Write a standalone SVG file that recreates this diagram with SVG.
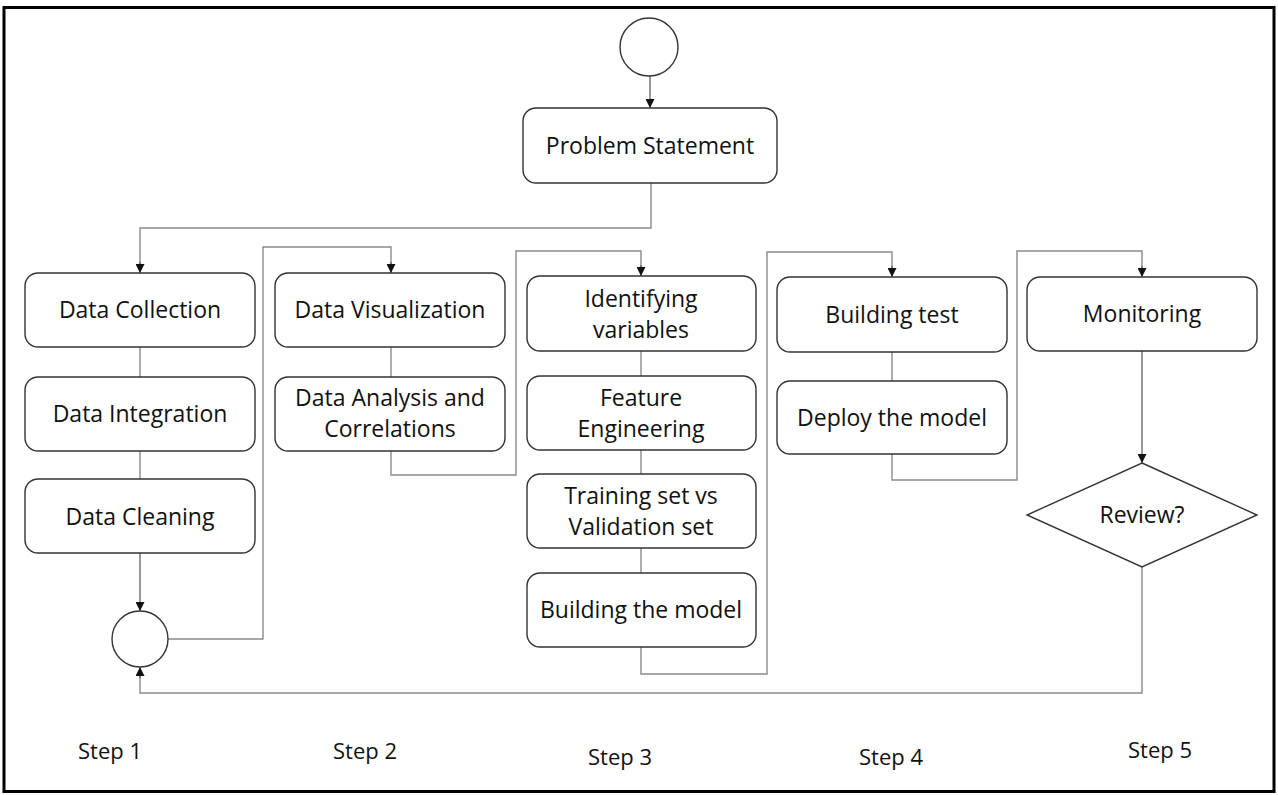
<svg xmlns="http://www.w3.org/2000/svg" width="1278" height="795" viewBox="0 0 1278 795">
<defs>
<marker id="arr" viewBox="0 0 10 10" refX="10" refY="5" markerWidth="9" markerHeight="9" markerUnits="userSpaceOnUse" orient="auto">
<path d="M0,0 L10,5 L0,10 z" fill="#111"/>
</marker>
</defs>
<style>
.box{fill:#fff;stroke:#333;stroke-width:1.4}
.circ{fill:#fff;stroke:#333;stroke-width:1.4}
.con{fill:none;stroke:#8a8a8a;stroke-width:1.4}
.arrow{fill:none;stroke:#555;stroke-width:1.2}
text{font-family:"Open Sans","Liberation Sans",sans-serif;font-size:23px;fill:#111;text-anchor:middle}
.step{font-size:22px}
</style>
<rect x="0" y="0" width="1278" height="795" fill="#fff"/>
<rect x="4" y="7.5" width="1270" height="784" fill="none" stroke="#000" stroke-width="3"/>

<g id="connectors">
<path class="arrow" d="M650,76 L650,108" marker-end="url(#arr)"/>
<path class="con" d="M651,183 L651,228 L140,228 L140,265"/>
<path class="arrow" d="M140,262 L140,273" marker-end="url(#arr)"/>
<path class="con" d="M140,347 L140,377"/>
<path class="con" d="M140,451 L140,479"/>
<path class="arrow" d="M140,553 L140,611" marker-end="url(#arr)"/>
<path class="con" d="M168,639 L263,639 L263,247 L391,247 L391,265"/>
<path class="arrow" d="M391,262 L391,273" marker-end="url(#arr)"/>
<path class="con" d="M391,347 L391,377"/>
<path class="con" d="M391,451 L391,475 L516,475 L516,251 L641,251 L641,268"/>
<path class="arrow" d="M641,265 L641,276" marker-end="url(#arr)"/>
<path class="con" d="M641,351 L641,376"/>
<path class="con" d="M641,450 L641,474"/>
<path class="con" d="M641,548 L641,573"/>
<path class="con" d="M641,647 L641,674 L767,674 L767,252 L892,252 L892,269"/>
<path class="arrow" d="M892,266 L892,277" marker-end="url(#arr)"/>
<path class="con" d="M892,352 L892,381"/>
<path class="con" d="M892,454 L892,480 L1017,480 L1017,251 L1142,251 L1142,269"/>
<path class="arrow" d="M1142,266 L1142,277" marker-end="url(#arr)"/>
<path class="arrow" d="M1142,351 L1142,463" marker-end="url(#arr)"/>
<path class="con" d="M1142,567 L1142,693 L140,693 L140,675"/>
<path class="arrow" d="M140,678 L140,667" marker-end="url(#arr)"/>
</g>

<g id="start"><circle class="circ" cx="649" cy="47" r="29"/></g>
<g id="problem-statement"><rect class="box" x="523" y="108" width="254" height="75" rx="13"/><text x="650" y="154">Problem Statement</text></g>

<g id="data-collection"><rect class="box" x="25" y="273" width="230" height="74" rx="13"/><text x="140" y="318">Data Collection</text></g>
<g id="data-integration"><rect class="box" x="25" y="377" width="230" height="74" rx="13"/><text x="140" y="422">Data Integration</text></g>
<g id="data-cleaning"><rect class="box" x="25" y="479" width="230" height="74" rx="13"/><text x="140" y="525">Data Cleaning</text></g>
<g id="merge"><circle class="circ" cx="140" cy="639" r="28"/></g>

<g id="data-visualization"><rect class="box" x="275" y="273" width="230" height="74" rx="13"/><text x="390" y="318">Data Visualization</text></g>
<g id="data-analysis"><rect class="box" x="275" y="377" width="230" height="74" rx="13"/><text x="390" y="406">Data Analysis and</text><text x="390" y="437">Correlations</text></g>

<g id="identifying-variables"><rect class="box" x="527" y="276" width="229" height="75" rx="13"/><text x="641" y="307">Identifying</text><text x="641" y="338">variables</text></g>
<g id="feature-engineering"><rect class="box" x="527" y="376" width="229" height="74" rx="13"/><text x="641" y="406">Feature</text><text x="641" y="437">Engineering</text></g>
<g id="training-set"><rect class="box" x="527" y="474" width="229" height="74" rx="13"/><text x="641" y="504">Training set vs</text><text x="641" y="535">Validation set</text></g>
<g id="building-model"><rect class="box" x="527" y="573" width="229" height="74" rx="13"/><text x="641" y="618">Building the model</text></g>

<g id="building-test"><rect class="box" x="777" y="277" width="230" height="75" rx="13"/><text x="892" y="323">Building test</text></g>
<g id="deploy-model"><rect class="box" x="777" y="381" width="230" height="73" rx="13"/><text x="892" y="426">Deploy the model</text></g>

<g id="monitoring"><rect class="box" x="1027" y="277" width="230" height="74" rx="13"/><text x="1142" y="322">Monitoring</text></g>
<g id="review"><polygon class="box" points="1142,463 1257,515 1142,567 1027,515"/><text x="1142" y="523">Review?</text></g>

<g id="step-labels">
<text class="step" x="110" y="759">Step 1</text>
<text class="step" x="365" y="759">Step 2</text>
<text class="step" x="620" y="765">Step 3</text>
<text class="step" x="891" y="765">Step 4</text>
<text class="step" x="1160" y="758">Step 5</text>
</g>
</svg>
